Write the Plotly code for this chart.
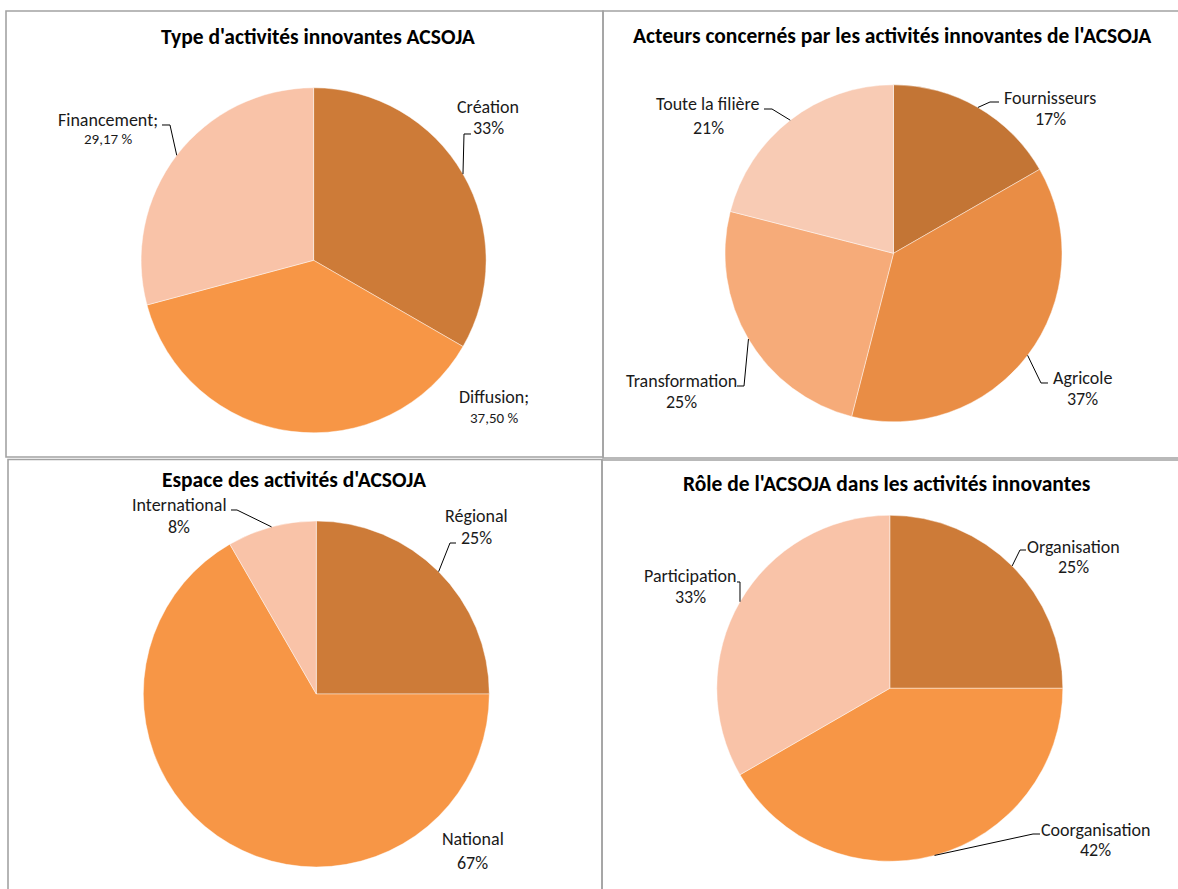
import math
import plotly.graph_objects as go

W, H = 1178, 889

# ---------------- data ----------------
titles = [
    "Type d'activités innovantes ACSOJA",
    "Acteurs concernés par les activités innovantes de l'ACSOJA",
    "Espace des activités d'ACSOJA",
    "Rôle de l'ACSOJA dans les activités innovantes",
]

type_labels = ["Création", "Diffusion", "Financement"]
type_values = [33.33, 37.50, 29.17]
type_formats = ["int", "dec", "dec"]

acteurs_labels = ["Fournisseurs", "Agricole", "Transformation", "Toute la filière"]
acteurs_values = [16.7, 37.3, 25.0, 21.0]
acteurs_formats = ["int", "int", "int", "int"]

espace_labels = ["Régional", "National", "International"]
espace_values = [25.0, 66.67, 8.33]
espace_formats = ["int", "int", "int"]

role_labels = ["Organisation", "Coorganisation", "Participation"]
role_values = [25.0, 41.67, 33.33]
role_formats = ["int", "int", "int"]

# ---------------- styles / layout ----------------
C_DARK = "#CD7B38"
C_MID = "#F79646"
C_LIGHT = "#F9C3A8"
colors = [
    [C_DARK, C_MID, C_LIGHT],
    ["#C37535", "#E98D45", "#F6AB79", "#F8CBB4"],
    [C_DARK, C_MID, C_LIGHT],
    [C_DARK, C_MID, C_LIGHT],
]

# pie geometry in pixels: center x, center y, radius
geom = [
    (313.6, 260.3, 172.5),
    (893.5, 253.3, 168.5),
    (316.3, 694.0, 173.0),
    (889.8, 688.3, 173.0),
]
title_pos = [(318, 37.5), (892.5, 35.5), (294, 479.5), (886.5, 483.5)]

# label placement: (center x, name y, pct y, leader) ; leader = (text-side x, elbow x, y) or None
label_pos = [
    [(488, 107, 128, (471, 464, 134)),
     (494, 397, 418, None),
     (108, 120, 139, (162, 170, 125))],
    [(1050, 98, 119, (999, 990, 102)),
     (1082, 378, 399, (1048, 1041, 383)),
     (681, 381, 402, (737, 744, 386)),
     (708, 104, 128, (764, 772, 109))],
    [(476, 516, 538, (456, 450, 543)),
     (472.5, 839, 863, None),
     (179, 505, 527, (231, 237, 510))],
    [(1073, 547, 567, (1026, 1020, 550)),
     (1095, 830, 850, (1040, 1033, 834)),
     (690, 576, 597, (737, 740, 582))],
]

panels = [
    (6, 11, 603, 457),
    (603, 11, 1185, 458),
    (8, 459.5, 602, 895),
    (602, 460, 1185, 895),
]

FONT = "Calibri, Carlito, Lato, sans-serif"
TITLE_SIZE = 21.5
LABEL_SIZE = 18
SMALL_SIZE = 15


def px(x):
    return x / W


def py(y):
    return 1 - y / H


def fmt_pct(v, f):
    if f == "dec":
        return ("%.2f" % v).replace(".", ",") + " %"
    return "%d%%" % int(math.floor(v + 0.5))


fig = go.Figure()
annotations = []
shapes = []

all_labels = [type_labels, acteurs_labels, espace_labels, role_labels]
all_values = [type_values, acteurs_values, espace_values, role_values]
all_formats = [type_formats, acteurs_formats, espace_formats, role_formats]

for i in range(4):
    cx, cy, r = geom[i]
    labels, values, formats = all_labels[i], all_values[i], all_formats[i]
    fig.add_trace(go.Pie(
        labels=labels, values=values, sort=False, direction="clockwise", rotation=0,
        marker=dict(colors=colors[i], line=dict(color="rgba(255,255,255,0.55)", width=0.8)),
        textinfo="none", hoverinfo="label+percent", showlegend=False,
        domain=dict(x=[px(cx - r), px(cx + r)], y=[py(cy + r), py(cy - r)]),
    ))
    tx, ty = title_pos[i]
    annotations.append(dict(x=px(tx), y=py(ty), xref="paper", yref="paper", text="<b>%s</b>" % titles[i],
                            showarrow=False, xanchor="center", yanchor="middle",
                            font=dict(family=FONT, size=TITLE_SIZE, color="#000000")))
    total = sum(values)
    cum = 0.0
    for j, (lab, v, f) in enumerate(zip(labels, values, formats)):
        mid = (cum + v / 2) / total * 2 * math.pi
        cum += v
        lx, ny, pyy, leader = label_pos[i][j]
        name = lab + (";" if f == "dec" else "")
        small = f == "dec"
        annotations.append(dict(x=px(lx), y=py(ny), xref="paper", yref="paper", text=name,
                                showarrow=False, xanchor="center", yanchor="middle",
                                font=dict(family=FONT, size=LABEL_SIZE, color="#1a1a1a")))
        annotations.append(dict(x=px(lx), y=py(pyy), xref="paper", yref="paper", text=fmt_pct(v, f),
                                showarrow=False, xanchor="center", yanchor="middle",
                                font=dict(family=FONT, size=SMALL_SIZE if small else LABEL_SIZE,
                                          color="#1a1a1a")))
        if leader is not None:
            ax = cx + r * math.sin(mid)
            ay = cy - r * math.cos(mid)
            tx0, ex, ly = leader
            path = "M %f %f L %f %f L %f %f" % (px(tx0), py(ly), px(ex), py(ly), px(ax), py(ay))
            shapes.append(dict(type="path", xref="paper", yref="paper", path=path,
                               line=dict(color="#000000", width=1)))

for (x0, y0, x1, y1) in panels:
    shapes.append(dict(type="rect", xref="paper", yref="paper", x0=px(x0), x1=px(x1), y0=py(y1), y1=py(y0),
                       line=dict(color="#a3a3a3", width=1.6), fillcolor="rgba(0,0,0,0)", layer="below"))

fig.update_layout(
    width=W, height=H, margin=dict(l=0, r=0, t=0, b=0),
    paper_bgcolor="white", plot_bgcolor="white",
    annotations=annotations, shapes=shapes,
)

fig.write_html("out.html", config={"displayModeBar": False},
               post_script="document.body.style.margin='0';document.body.style.overflow='hidden';")
